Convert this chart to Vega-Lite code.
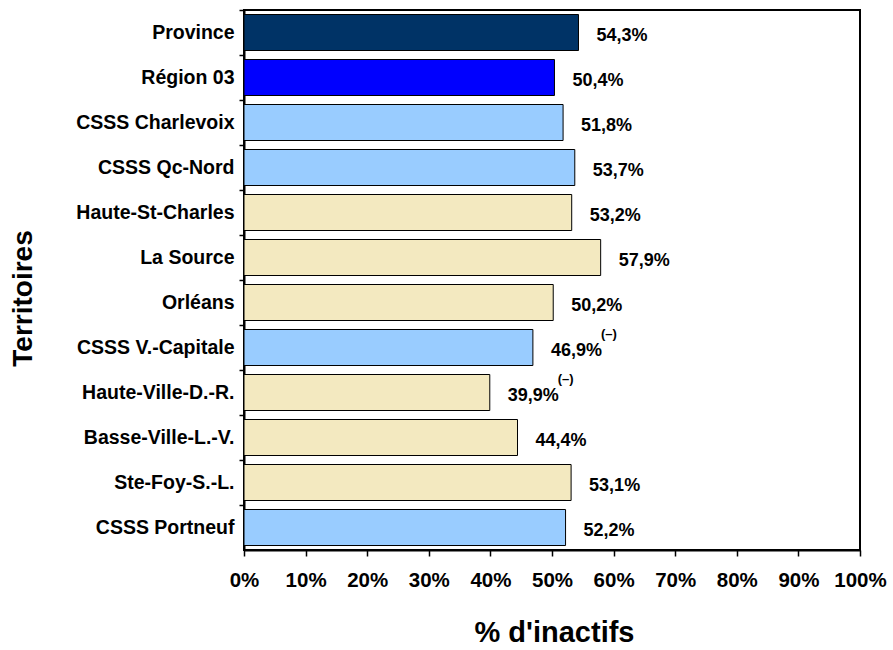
{
  "$schema": "https://vega.github.io/schema/vega-lite/v6.json",
  "width": 616,
  "height": 540,
  "autosize": {"type": "none"},
  "padding": {"left": 244, "top": 10, "right": 33, "bottom": 100},
  "background": "white",
  "config": {
    "locale": {"number": {"decimal": ",", "thousands": " ", "grouping": [3], "currency": ["", " $"]}},
    "font": "Liberation Sans",
    "view": {"stroke": "#000000", "strokeWidth": 2}
  },
  "data": {
    "values": [
      {"territoire": "Province", "value": 0.543, "type": "Province", "note": ""},
      {"territoire": "Région 03", "value": 0.504, "type": "Région", "note": ""},
      {"territoire": "CSSS Charlevoix", "value": 0.518, "type": "CSSS", "note": ""},
      {"territoire": "CSSS Qc-Nord", "value": 0.537, "type": "CSSS", "note": ""},
      {"territoire": "Haute-St-Charles", "value": 0.532, "type": "Territoire", "note": ""},
      {"territoire": "La Source", "value": 0.579, "type": "Territoire", "note": ""},
      {"territoire": "Orléans", "value": 0.502, "type": "Territoire", "note": ""},
      {"territoire": "CSSS V.-Capitale", "value": 0.469, "type": "CSSS", "note": "(–)"},
      {"territoire": "Haute-Ville-D.-R.", "value": 0.399, "type": "Territoire", "note": "(–)"},
      {"territoire": "Basse-Ville-L.-V.", "value": 0.444, "type": "Territoire", "note": ""},
      {"territoire": "Ste-Foy-S.-L.", "value": 0.531, "type": "Territoire", "note": ""},
      {"territoire": "CSSS Portneuf", "value": 0.522, "type": "CSSS", "note": ""}
    ]
  },
  "encoding": {
    "y": {
      "field": "territoire",
      "type": "nominal",
      "sort": null,
      "scale": {"paddingInner": 0.2, "paddingOuter": 0.1},
      "axis": {
        "title": "Territoires",
        "titleFont": "Liberation Sans",
        "titleFontSize": 28,
        "titleFontWeight": "bold",
        "titleColor": "#000000",
        "titleAngle": -90,
        "titleX": -221,
        "titleY": 288,
        "titleAlign": "center",
        "titleBaseline": "middle",
        "labelFont": "Liberation Sans",
        "labelFontSize": 19.5,
        "labelFontWeight": "bold",
        "labelColor": "#000000",
        "labelPadding": 5,
        "tickSize": 5,
        "tickColor": "#000000",
        "tickWidth": 1.5,
        "tickOffset": -22.5,
        "labelOffset": 22.5,
        "domainColor": "#000000",
        "domainWidth": 2,
        "grid": false
      }
    },
    "x": {
      "field": "value",
      "type": "quantitative",
      "scale": {"domain": [0, 1], "nice": false},
      "axis": {
        "title": "% d'inactifs",
        "titleFont": "Liberation Sans",
        "titleFontSize": 29,
        "titleFontWeight": "bold",
        "titleColor": "#000000",
        "titleX": 310,
        "titleY": 82,
        "titleAlign": "center",
        "titleBaseline": "middle",
        "format": ".0%",
        "values": [0, 0.1, 0.2, 0.3, 0.4, 0.5, 0.6, 0.7, 0.8, 0.9, 1],
        "labelFont": "Liberation Sans",
        "labelFontSize": 20.5,
        "labelFontWeight": "bold",
        "labelColor": "#000000",
        "labelPadding": 14,
        "labelFlush": false,
        "labelOverlap": false,
        "tickSize": 6,
        "tickColor": "#000000",
        "tickWidth": 1.5,
        "domainColor": "#000000",
        "domainWidth": 2,
        "grid": false
      }
    }
  },
  "layer": [
    {
      "mark": {"type": "bar", "stroke": "#000000", "strokeWidth": 1},
      "encoding": {
        "color": {
          "field": "type",
          "type": "nominal",
          "scale": {"domain": ["Province", "Région", "CSSS", "Territoire"], "range": ["#003366", "#0000FF", "#99CCFF", "#F3E9C0"]},
          "legend": null
        }
      }
    },
    {
      "mark": {"type": "text", "align": "left", "baseline": "middle", "dx": 18, "dy": 3, "font": "Liberation Sans", "fontSize": 18, "fontWeight": "bold", "color": "#000000"},
      "encoding": {
        "text": {"field": "value", "type": "quantitative", "format": ".1%"}
      }
    },
    {
      "mark": {"type": "text", "align": "left", "baseline": "middle", "dx": 68, "dy": -14, "font": "Liberation Sans", "fontSize": 13, "fontWeight": "bold", "color": "#000000"},
      "encoding": {
        "text": {"field": "note", "type": "nominal"}
      }
    }
  ]
}
